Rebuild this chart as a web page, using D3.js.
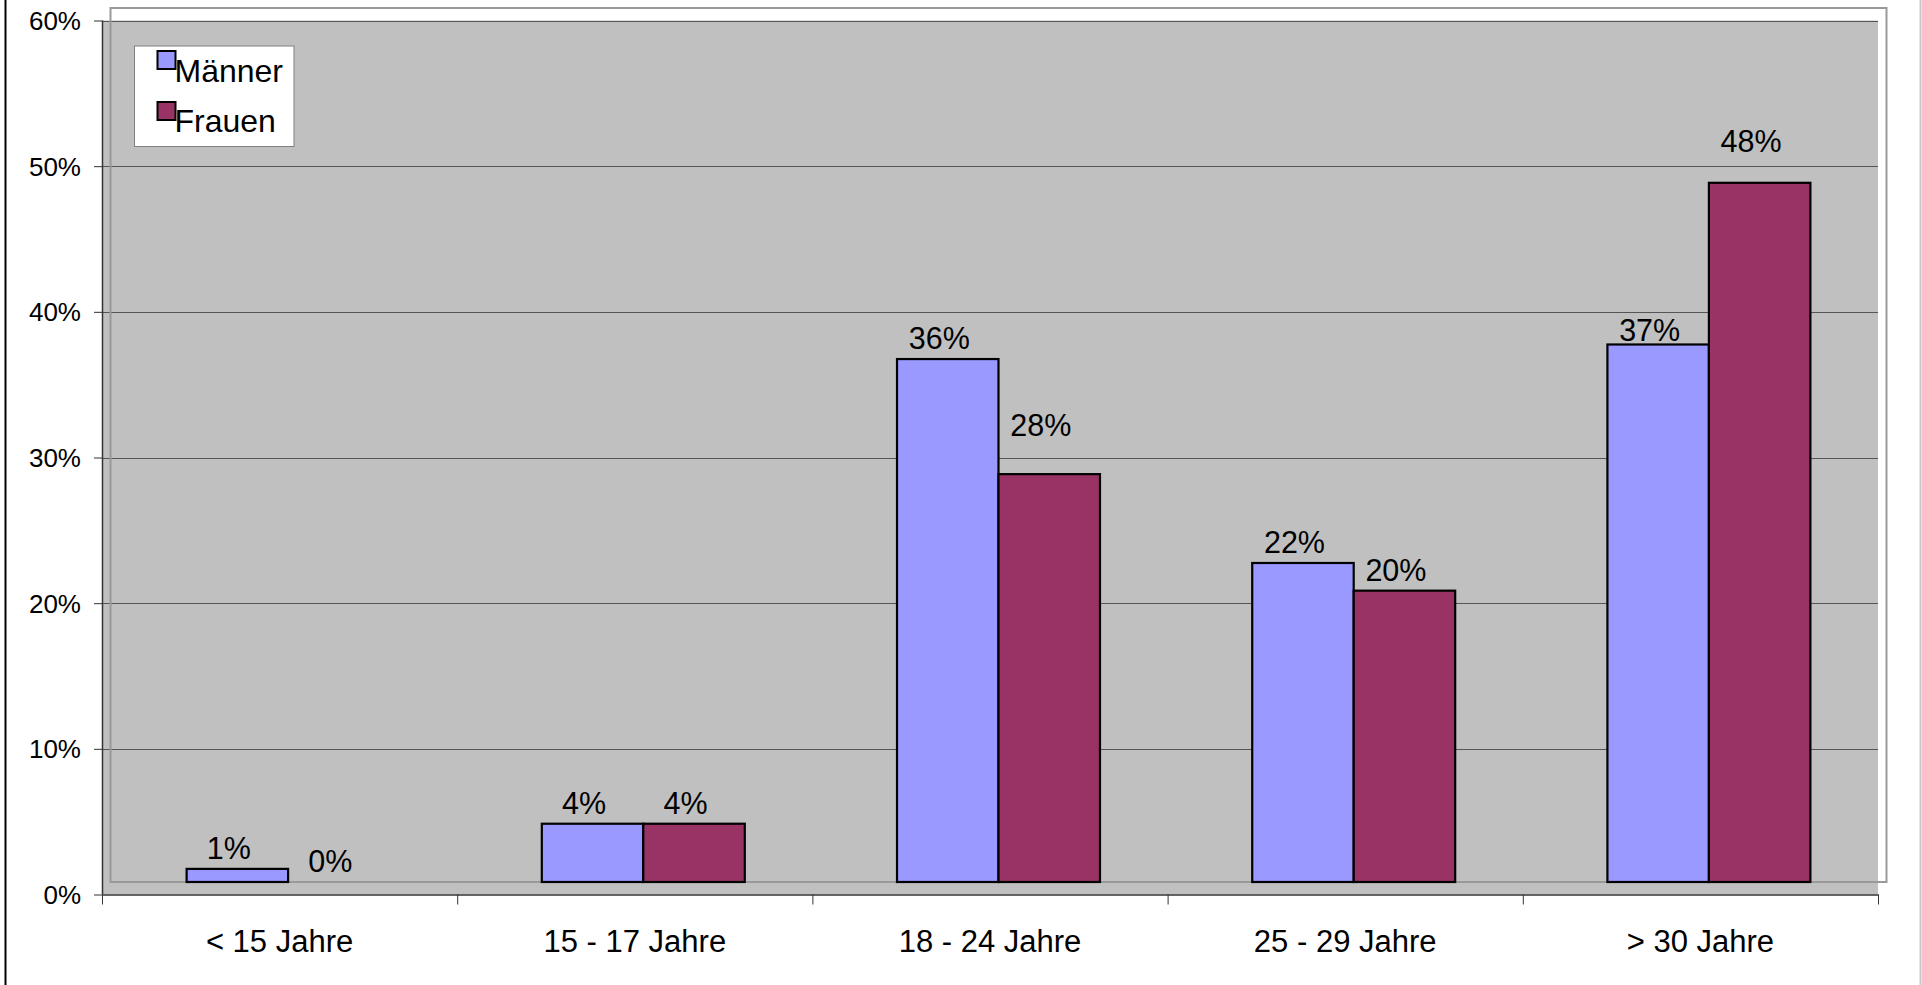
<!DOCTYPE html>
<html>
<head>
<meta charset="utf-8">
<script src="https://cdn.jsdelivr.net/npm/d3@7"></script>
<style>
  html, body { margin: 0; padding: 0; background: #fff; }
  svg { display: block; font-family: "Liberation Sans", Arial, sans-serif; }
</style>
</head>
<body>
<svg id="chart" width="1922" height="985"></svg>
<script>
// ---- data ----
const categories = ["< 15 Jahre", "15 - 17 Jahre", "18 - 24 Jahre", "25 - 29 Jahre", "> 30 Jahre"];
const seriesNames = ["Männer", "Frauen"];
const maenner = [0.9, 4.0, 35.9, 21.9, 36.9];
const frauen = [0, 4.0, 28.0, 20.0, 48.0];
const yTicks = [0, 10, 20, 30, 40, 50, 60];

// ---- layout ----
const svg = d3.select("#chart");
const plot = { left: 102, right: 1878, top: 20.5, bottom: 894.5 };
const depth = { dx: 8.5, dy: -12.5 };
const colors = { "Männer": "#9999FF", "Frauen": "#993366" };
// manual label adjustments (px) as in the original chart
const labelNudge = { "Männer": [0, 0, 0, 0, 7], "Frauen": [0, 0, -28, 0, -21] };

const y = d3.scaleLinear().domain([0, 60]).range([plot.bottom, plot.top]);
const x0 = d3.scaleBand().domain(categories).range([plot.left, plot.right]).padding(0);
const x1 = d3.scaleBand().domain(seriesNames).range([0, x0.bandwidth()]).paddingInner(0).paddingOuter(0.75);
const xIdx = d3.scaleLinear().domain([0, categories.length]).range([plot.left, plot.right]);

// outer chart border lines
svg.append("line").attr("x1", 5.5).attr("x2", 5.5).attr("y1", 0).attr("y2", 985)
  .attr("stroke", "#000").attr("stroke-width", 2);
svg.append("line").attr("x1", 1920.5).attr("x2", 1920.5).attr("y1", 0).attr("y2", 985)
  .attr("stroke", "#c8c8c8").attr("stroke-width", 2);

// plot background
svg.append("rect").attr("x", plot.left).attr("y", plot.top)
  .attr("width", plot.right - plot.left).attr("height", plot.bottom - plot.top)
  .attr("fill", "#C0C0C0");

// gridlines
svg.append("g").selectAll("line").data(yTicks.filter(d => d > 0)).join("line")
  .attr("x1", plot.left).attr("x2", plot.right)
  .attr("y1", d => Math.round(y(d)) + 0.5).attr("y2", d => Math.round(y(d)) + 0.5)
  .attr("stroke", "#555").attr("stroke-width", 1);

// offset frame (back wall)
svg.append("rect").attr("x", plot.left + depth.dx).attr("y", plot.top + depth.dy)
  .attr("width", plot.right - plot.left).attr("height", plot.bottom - plot.top)
  .attr("fill", "none").attr("stroke", "#999").attr("stroke-width", 2);

// y axis
const yAxis = svg.append("g").attr("transform", `translate(${plot.left},0)`)
  .call(d3.axisLeft(y).tickValues(yTicks).tickFormat(d => d + "%").tickSize(8).tickPadding(13));
yAxis.select(".domain").attr("stroke", "#333").attr("stroke-width", 1.5)
  .attr("d", `M0.5,${plot.top}V${plot.bottom}`);
yAxis.selectAll(".tick line").attr("stroke", "#333");
yAxis.selectAll(".tick text").attr("font-size", 26).attr("fill", "#000")
  .attr("font-family", "'Liberation Sans', Arial, sans-serif").attr("dy", "0.34em");

// x axis
const xAxis = svg.append("g").attr("transform", `translate(0,${plot.bottom})`)
  .call(d3.axisBottom(xIdx).tickValues(d3.range(categories.length + 1)).tickFormat("").tickSize(10).tickSizeOuter(0));
xAxis.select(".domain").attr("stroke", "#333").attr("stroke-width", 1.5);
xAxis.selectAll(".tick line").attr("stroke", "#333");

svg.append("g").selectAll("text").data(categories).join("text")
  .attr("x", d => x0(d) + x0.bandwidth() / 2)
  .attr("y", 951.5)
  .attr("text-anchor", "middle").attr("font-size", 31).attr("fill", "#000")
  .text(d => d);

// bars
const seriesData = { "Männer": maenner, "Frauen": frauen };
const yBar = v => y(v) + depth.dy;
const barGroup = svg.append("g");
seriesNames.forEach(s => {
  barGroup.selectAll(null).data(seriesData[s].map((v, i) => ({ v, i }))).join("rect")
    .attr("x", d => x0(categories[d.i]) + x1(s) + depth.dx)
    .attr("width", x1.bandwidth())
    .attr("y", d => yBar(d.v))
    .attr("height", d => yBar(0) - yBar(d.v))
    .attr("fill", colors[s])
    .attr("stroke", "#000").attr("stroke-width", d => d.v > 0 ? 2.2 : 0);
});

// data labels
const labelGroup = svg.append("g");
seriesNames.forEach(s => {
  labelGroup.selectAll(null).data(seriesData[s].map((v, i) => ({ v, i }))).join("text")
    .attr("x", d => x0(categories[d.i]) + x1(s) + x1.bandwidth() / 2)
    .attr("y", d => yBar(d.v) - 10 + labelNudge[s][d.i])
    .attr("text-anchor", "middle").attr("font-size", 30.5).attr("fill", "#000")
    .text(d => Math.round(d.v) + "%");
});

// legend
const legend = svg.append("g");
legend.append("rect").attr("x", 134.5).attr("y", 46).attr("width", 159.5).attr("height", 100.5)
  .attr("fill", "#fff").attr("stroke", "#808080").attr("stroke-width", 1);
seriesNames.forEach((s, i) => {
  legend.append("rect").attr("x", 157.5).attr("y", 51 + i * 51).attr("width", 18).attr("height", 18)
    .attr("fill", colors[s]).attr("stroke", "#000").attr("stroke-width", 2);
  legend.append("text").attr("x", 174.5).attr("y", 81.5 + i * 50)
    .attr("font-size", 32).attr("fill", "#000").text(s);
});
</script>
</body>
</html>
